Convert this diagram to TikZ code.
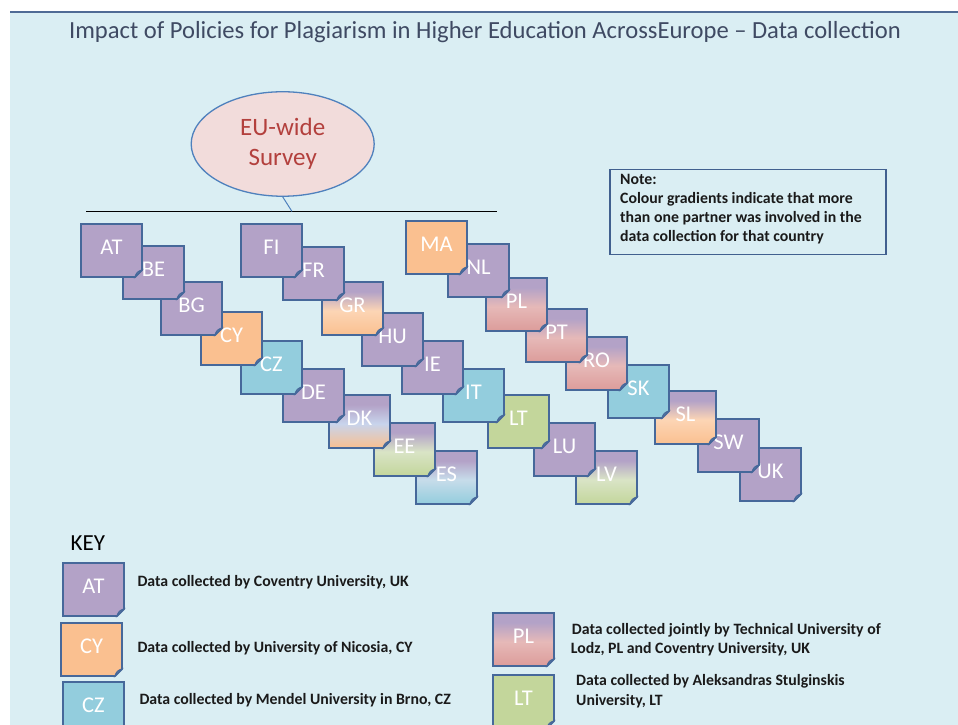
\documentclass[tikz,border=0pt]{standalone}
\usepackage{fontspec}
\setmainfont{Carlito}
\usetikzlibrary{shapes.geometric}
\definecolor{bgc}{HTML}{DAEEF3}
\definecolor{framec}{HTML}{4F6B95}
\definecolor{titlec}{HTML}{3F4A63}
\definecolor{boxedge}{HTML}{46689A}
\definecolor{cpurple}{HTML}{B3A2C7}
\definecolor{corange}{HTML}{FAC090}
\definecolor{cpeach}{HTML}{FCD5B5}
\definecolor{cblue}{HTML}{93CDDD}
\definecolor{clblue}{HTML}{C7DCEA}
\definecolor{cdkblue}{HTML}{C8D4EC}
\definecolor{cgreen}{HTML}{C3D69B}
\definecolor{clgreen}{HTML}{D9E4C6}
\definecolor{cpink}{HTML}{E6B9B8}
\definecolor{cdpink}{HTML}{DC9C9A}
\definecolor{ellfill}{HTML}{F2DCDB}
\definecolor{elledge}{HTML}{4F81BD}
\definecolor{elltext}{HTML}{B3403D}
\definecolor{noteedge}{HTML}{41608F}
\definecolor{smallc}{HTML}{1A1A1A}
\colorlet{tA}{cpurple}\colorlet{tB}{cpurple}\colorlet{tC}{cpurple}
\pgfdeclareverticalshading[tA,tB,tC]{threegrad}{100bp}{color(0bp)=(tC); color(25bp)=(tC); color(48bp)=(tB); color(66bp)=(tA); color(100bp)=(tA)}
\tikzset{
  boxline/.style={draw=boxedge, line width=1.8pt, line join=miter},
  grad/.style n args={3}{/utils/exec={\colorlet{tA}{#1}\colorlet{tB}{#2}\colorlet{tC}{#3}}, shading=threegrad, shade},
  foldpart/.style={draw=boxedge, line width=1pt, fill=boxedge!80!white},
  boxlabel/.style={text=white, font=\fontsize{22.5}{26}\selectfont, anchor=base, inner sep=0},
  smalltxt/.style={anchor=base west, inner sep=0, text=smallc, font=\fontsize{15.8}{19}\selectfont\bfseries},
}
\newcommand\cbox[5]{%
  \begin{scope}[shift={(#2,{725-#3})}]
    \path[boxline,#5] (0,0) -- (61,0) -- (61,-46) -- (54,-53) -- (0,-53) -- cycle;
    \path[foldpart] (54,-53) .. controls (55,-49) and (57,-47) .. (61,-46) -- cycle;
    \node[boxlabel] (#1) at (30.5,-31) {#4};
  \end{scope}}
\begin{document}
\begin{tikzpicture}[x=1pt,y=1pt]
\useasboundingbox (0,0) rectangle (958,725);
\clip (0,0) rectangle (958,725);
\fill[white] (0,0) rectangle (958,725);
\fill[bgc] (10,0) rectangle (958,713);
\draw[framec, line width=2pt] (10,713) -- (958,713);
\node[anchor=base, inner sep=0, text=titlec, font=\fontsize{24.6}{28}\selectfont] (title) at (485,686) {Impact of Policies for Plagiarism in Higher Education AcrossEurope -- Data collection};

% survey ellipse and bar
\node[ellipse, draw=elledge, line width=1.3pt, fill=ellfill, minimum width=183, minimum height=104.5, inner sep=0, text=elltext, align=center, font=\fontsize{25}{29.5}\selectfont] (eu) at (282.7,581) {EU-wide\\Survey};
\coordinate (ll) at (86,513.5);
\coordinate (lr) at (497,513.5);
\coordinate (lj) at (292,513.5);
\draw[black, line width=1.5pt] (ll) -- (lr);
\draw[elledge, line width=1pt] (eu.south) -- (lj);

% note
\node[draw=noteedge, line width=1.5pt, minimum width=276, minimum height=85, anchor=north west, inner sep=0] (note) at (609,556) {};
\node[smalltxt] (n1) at (620,540) {Note:};
\node[smalltxt] (n2) at (620,521) {Colour gradients indicate that more};
\node[smalltxt] (n3) at (620,502) {than one partner was involved in the};
\node[smalltxt] (n4) at (620,483) {data collection for that country};

% chain 1 (drawn last-first)
\cbox{ES}{416}{451}{ES}{grad={cpurple}{clblue}{cblue}}
\cbox{EE}{374}{423}{EE}{grad={cpurple}{clgreen}{cgreen}}
\cbox{DK}{329}{395}{DK}{grad={cpurple}{cdkblue}{corange}}
\cbox{DE}{283}{369}{DE}{fill=cpurple}
\cbox{CZ}{241}{341}{CZ}{fill=cblue}
\cbox{CY}{201}{312}{CY}{fill=corange}
\cbox{BG}{161}{282}{BG}{fill=cpurple}
\cbox{BE}{123}{246}{BE}{fill=cpurple}
\cbox{AT}{81}{224}{AT}{fill=cpurple}
% chain 2
\cbox{LV}{576}{451}{LV}{grad={cpurple}{clgreen}{cgreen}}
\cbox{LU}{534}{423}{LU}{fill=cpurple}
\cbox{LT}{488}{395}{LT}{fill=cgreen}
\cbox{IT}{443}{369}{IT}{fill=cblue}
\cbox{IE}{402}{341}{IE}{fill=cpurple}
\cbox{HU}{362}{313}{HU}{fill=cpurple}
\cbox{GR}{322}{282}{GR}{grad={cpurple}{cpeach}{corange}}
\cbox{FR}{283}{247}{FR}{fill=cpurple}
\cbox{FI}{241}{224}{FI}{fill=cpurple}
% chain 3
\cbox{UK}{740}{448}{UK}{fill=cpurple}
\cbox{SW}{698}{419}{SW}{fill=cpurple}
\cbox{SL}{655}{391}{SL}{grad={cpurple}{cpeach}{corange}}
\cbox{SK}{608}{365}{SK}{fill=cblue}
\cbox{RO}{566}{337}{RO}{grad={cpurple}{cpink}{cdpink}}
\cbox{PT}{526}{309}{PT}{grad={cpurple}{cpink}{cdpink}}
\cbox{PL}{486}{278}{PL}{grad={cpurple}{cpink}{cdpink}}
\cbox{NL}{448}{244}{NL}{fill=cpurple}
\cbox{MA}{406}{221}{MA}{fill=corange}

% key
\node[anchor=base west, inner sep=0, text=black, font=\fontsize{23}{27}\selectfont] (key) at (70.5,174.3) {KEY};
\cbox{kAT}{63}{563}{AT}{fill=cpurple}
\cbox{kCY}{61}{623}{CY}{fill=corange}
\cbox{kCZ}{63}{682}{CZ}{fill=cblue}
\cbox{kPL}{493}{613}{PL}{grad={cpurple}{cpink}{cdpink}}
\cbox{kLT}{493}{675}{LT}{fill=cgreen}
\node[smalltxt] (t1) at (137.3,138.3) {Data collected by Coventry University, UK};
\node[smalltxt] (t2) at (137.3,72.3) {Data collected by University of Nicosia, CY};
\node[smalltxt] (t3) at (139.3,20) {Data collected by Mendel University in Brno, CZ};
\node[smalltxt] (t4) at (571.7,90.7) {Data collected jointly by Technical University of};
\node[smalltxt] (t5) at (570.7,71.7) {Lodz, PL and Coventry University, UK};
\node[smalltxt] (t6) at (576,39) {Data collected by Aleksandras Stulginskis};
\node[smalltxt] (t7) at (576,19) {University, LT};
\end{tikzpicture}
\end{document}
